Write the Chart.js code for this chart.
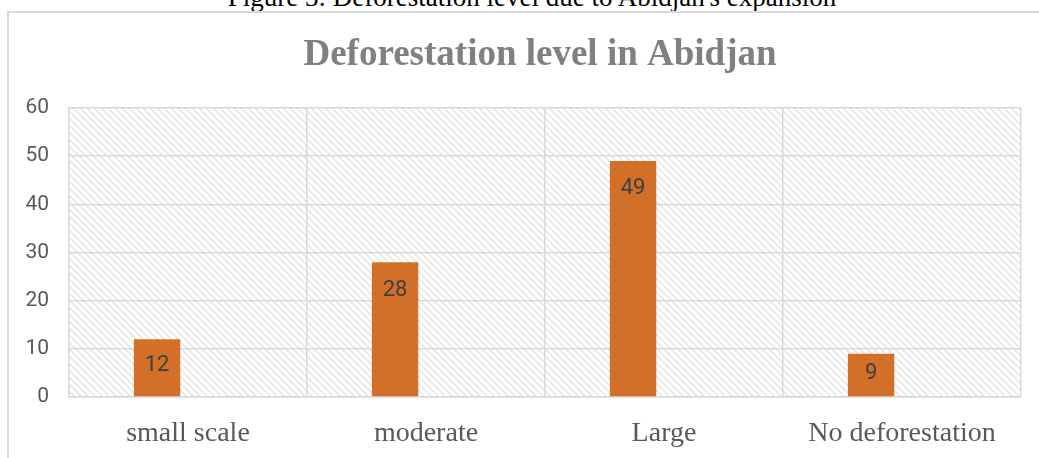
<!DOCTYPE html>
<html>
<head>
<meta charset="utf-8">
<script src="https://cdn.jsdelivr.net/npm/chart.js@4/dist/chart.umd.min.js"></script>
<style>
  body { margin: 0; background: #fff; overflow: hidden; }
  #caption { position: absolute; left: 0; width: 1064px; top: -18px; line-height: 30px; text-align: center;
    font-family: "Liberation Serif", "Times New Roman", serif; font-size: 27px; color: #000; }
  #frame { position: absolute; left: 7px; top: 11px; width: 1100px; height: 500px;
    border-left: 2px solid #d9d9d9; border-top: 2px solid #d9d9d9; }
  #myChart { position: absolute; left: 0; top: 0; }
</style>
</head>
<body>
<div id="caption">Figure 3: Deforestation level due to Abidjan's expansion</div>
<div id="frame"></div>
<canvas id="myChart" width="1039" height="458"></canvas>
<script>
// 値
var categories = ['small scale', 'moderate', 'Large', 'No deforestation'];
var values = [12, 28, 49, 9];
var empty = [null, null, null, null];
var yTicks = [0, 10, 20, 30, 40, 50, 60];
var chartTitle = 'Deforestation level in Abidjan';

// 斜線の背景パターン
function hatch(){
  var c = document.createElement('canvas');
  c.width = 7; c.height = 7;
  var g = c.getContext('2d');
  g.fillStyle = '#ffffff';
  g.fillRect(0, 0, 7, 7);
  g.strokeStyle = '#e2e2e2';
  g.lineWidth = 1.3;
  g.beginPath();
  g.moveTo(-1, -1); g.lineTo(8, 8);
  g.moveTo(-1, 6); g.lineTo(1, 8);
  g.moveTo(6, -1); g.lineTo(8, 1);
  g.stroke();
  return g.createPattern(c, 'repeat');
}

var background = {
  id: 'background',
  beforeDraw: function(chart){
    var a = chart.chartArea, ctx = chart.ctx;
    ctx.save();
    ctx.fillStyle = hatch();
    ctx.fillRect(a.left, a.top, a.right - a.left, a.bottom - a.top);
    ctx.font = 'bold 37px "Liberation Serif", "Times New Roman", serif';
    ctx.fillStyle = '#808080';
    ctx.textAlign = 'center';
    ctx.textBaseline = 'alphabetic';
    ctx.fillText(chartTitle, 540, 65);
    ctx.restore();
  }
};

var barLabels = {
  id: 'barLabels',
  afterDatasetsDraw: function(chart){
    var ctx = chart.ctx;
    var meta = chart.getDatasetMeta(0);
    ctx.save();
    ctx.font = '22px Roboto, "Noto Sans", sans-serif';
    ctx.fillStyle = '#404040';
    ctx.textAlign = 'center';
    ctx.textBaseline = 'middle';
    meta.data.forEach(function(bar, i){
      var h = bar.base - bar.y;
      ctx.fillText(values[i], bar.x, bar.y + Math.min(28, h * 0.46));
    });
    ctx.restore();
  }
};

var ctx = document.getElementById('myChart').getContext('2d');
var myChart = new Chart(ctx, {
  type: 'bar',
  data: {
    labels: categories,
    datasets: [{
      data: values,
      backgroundColor: '#d2702a',
      borderWidth: 0
    }, {
      data: empty,
      backgroundColor: '#a5a5a5'
    }]
  },
  options: {
    responsive: false,
    animation: false,
    categoryPercentage: 0.52,
    barPercentage: 0.75,
    layout: { padding: { top: 108, right: 18, left: 0, bottom: 0 } },
    plugins: {
      legend: { display: false },
      title: { display: false },
      tooltip: { enabled: false }
    },
    scales: {
      x: {
        grid: { color: '#d9d9d9', lineWidth: 1.5, drawTicks: false, offset: true },
        border: { color: '#d9d9d9', width: 1.5 },
        ticks: {
          color: '#595959', padding: 20,
          font: { family: '"Liberation Serif", "Times New Roman", serif', size: 28 }
        },
        afterFit: function(s){ s.height = 61; }
      },
      y: {
        min: 0, max: 60,
        afterBuildTicks: function(s){ s.ticks = yTicks.map(function(v){ return { value: v }; }); },
        grid: { color: '#d9d9d9', lineWidth: 1.5, drawTicks: false },
        border: { color: '#d9d9d9', width: 1.5 },
        ticks: {
          color: '#595959', padding: 20,
          font: { family: 'Roboto, "Noto Sans", sans-serif', size: 21 }
        },
        afterFit: function(s){ s.width = 69; }
      }
    }
  },
  plugins: [background, barLabels]
});
</script>
</body>
</html>
